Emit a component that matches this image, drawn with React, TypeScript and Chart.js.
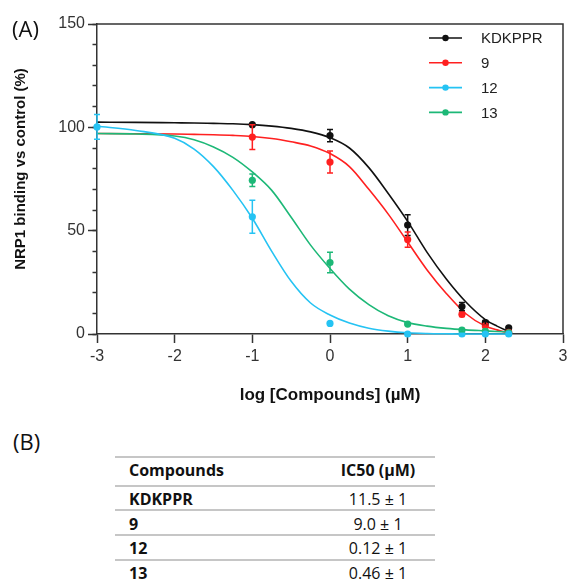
import React, { useEffect, useRef } from "react";
import { Chart, registerables } from "chart.js";

Chart.register(...registerables);

// ---------- data ----------
const SERIES_LABELS = ["KDKPPR", "9", "12", "13"];
const SERIES_COLORS = ["#111111", "#ff2020", "#25c3f3", "#1db877"];

// measured points (log concentration, % binding, error)
const POINT_X = [-1, 0, 1, 1.699, 2, 2.301];
const POINT_X_12 = [-3, -1, 0, 1, 1.699, 2, 2.301];
const POINTS_KDKPPR = [101.3, 96, 52.7, 13.3, 5.5, 3];
const ERRORS_KDKPPR = [0, 3, 5, 2, 1, 0];
const POINTS_9 = [95.3, 83.2, 45.7, 9.5, 3.9, 0.8];
const ERRORS_9 = [6, 5.3, 3.7, 1, 0.5, 0];
const POINTS_12 = [100.2, 56.7, 5.1, 0, 0, 0, 0];
const ERRORS_12 = [6, 8, 0, 0, 0, 0, 0];
const POINTS_13 = [74.4, 34.6, 4.8, 1.9, 1.4, 0.6];
const ERRORS_13 = [3, 5, 0.5, 0.8, 0, 0];

// fitted curves
const CURVE_X = [-3, -2.5, -2, -1.75, -1.5, -1.25, -1, -0.75, -0.5, -0.25, 0, 0.25, 0.5, 0.75, 1, 1.25, 1.5, 1.75, 2, 2.15, 2.3];
const CURVE_KDKPPR = [102.5, 102.4, 102.2, 102.1, 101.9, 101.7, 101.3, 100.6, 99.5, 97.8, 95, 90, 80.5, 68, 54.5, 39.5, 26.5, 15.5, 7, 3.8, 1.2];
const CURVE_9 = [97, 96.9, 96.8, 96.6, 96.4, 96.1, 95.6, 94.6, 93, 91, 87.3, 81, 70, 58, 44.5, 31, 19.5, 9.8, 3.8, 2, 0.5];
const CURVE_12 = [100.5, 98.5, 94.7, 89.5, 81, 69.5, 56, 40, 25.5, 15, 9.2, 5.3, 2.8, 1.4, 0.6, 0.25, 0.1, 0, 0, 0, 0];
const CURVE_13 = [97, 96.8, 95.8, 94, 90.5, 85.5, 78.4, 69.5, 56.5, 43, 31.7, 21.7, 14.2, 8.8, 5.5, 3.8, 2.7, 2, 1.5, 1.2, 1];

const X_MIN = -3;
const X_MAX = 3;
const Y_MIN = 0;
const Y_MAX = 150;
const Y_MAJOR_STEP = 50;
const Y_MINOR_STEP = 10;

const X_TITLE = "log [Compounds] (µM)";
const Y_TITLE = "NRP1 binding vs control (%)";

const TABLE_HEADER = ["Compounds", "IC50 (µM)"];
const TABLE_COMPOUNDS = ["KDKPPR", "9", "12", "13"];
const TABLE_IC50 = ["11.5 ± 1", "9.0 ± 1", "0.12 ± 1", "0.46 ± 1"];

// ---------- helpers ----------
const FONT = "'Liberation Sans', Arial, sans-serif";
const AXIS_COLOR = "#333333";

const pointSets = [
  { xs: POINT_X, ys: POINTS_KDKPPR, errs: ERRORS_KDKPPR },
  { xs: POINT_X, ys: POINTS_9, errs: ERRORS_9 },
  { xs: POINT_X_12, ys: POINTS_12, errs: ERRORS_12 },
  { xs: POINT_X, ys: POINTS_13, errs: ERRORS_13 },
];
const curveSets = [CURVE_KDKPPR, CURVE_9, CURVE_12, CURVE_13];
const pointOrder = [3, 2, 0, 1];
const curveOrder = [13, 12, 10, 11];

const errorBarPlugin = {
  id: "errorBars",
  afterDatasetsDraw(chart: any) {
    const { ctx } = chart;
    const xs = chart.scales.x;
    const ys = chart.scales.y;
    chart.data.datasets.forEach((ds: any) => {
      if (!ds.errors) return;
      ctx.save();
      ctx.strokeStyle = ds.borderColor;
      ctx.lineWidth = 1.5;
      ds.data.forEach((pt: any, j: number) => {
        const e = ds.errors[j];
        if (!e) return;
        const px = xs.getPixelForValue(pt.x);
        const yTop = ys.getPixelForValue(pt.y + e);
        const yBot = ys.getPixelForValue(pt.y - e);
        ctx.beginPath();
        ctx.moveTo(px, yTop);
        ctx.lineTo(px, yBot);
        ctx.moveTo(px - 3, yTop);
        ctx.lineTo(px + 3, yTop);
        ctx.moveTo(px - 3, yBot);
        ctx.lineTo(px + 3, yBot);
        ctx.stroke();
      });
      ctx.restore();
    });
  },
};

const framePlugin = {
  id: "frame",
  afterDraw(chart: any) {
    const { ctx, chartArea } = chart;
    ctx.save();
    ctx.strokeStyle = AXIS_COLOR;
    ctx.lineWidth = 1.5;
    ctx.beginPath();
    ctx.moveTo(chartArea.left, chartArea.top);
    ctx.lineTo(chartArea.right, chartArea.top);
    ctx.lineTo(chartArea.right, chartArea.bottom);
    ctx.stroke();
    // y axis title
    ctx.translate(21, 169);
    ctx.rotate(-Math.PI / 2);
    ctx.fillStyle = "#111";
    ctx.font = `bold 15px ${FONT}`;
    ctx.textAlign = "center";
    ctx.textBaseline = "middle";
    ctx.fillText(Y_TITLE, 0, 0);
    ctx.restore();
  },
};

const legendPlugin = {
  id: "customLegend",
  afterDraw(chart: any) {
    const { ctx, chartArea } = chart;
    ctx.save();
    SERIES_LABELS.forEach((label, i) => {
      const y = chartArea.top + 14 + i * 24.8;
      const x0 = chartArea.right - 134;
      const x1 = chartArea.right - 101;
      ctx.strokeStyle = SERIES_COLORS[i];
      ctx.fillStyle = SERIES_COLORS[i];
      ctx.lineWidth = 1.6;
      ctx.beginPath();
      ctx.moveTo(x0, y);
      ctx.lineTo(x1, y);
      ctx.stroke();
      ctx.beginPath();
      ctx.arc((x0 + x1) / 2, y, 3.2, 0, Math.PI * 2);
      ctx.fill();
      ctx.fillStyle = "#222";
      ctx.font = `15px ${FONT}`;
      ctx.textAlign = "left";
      ctx.textBaseline = "middle";
      ctx.fillText(label, chartArea.right - 82, y + 1);
    });
    ctx.restore();
  },
};

function ChartPanel() {
  const ref = useRef<HTMLCanvasElement | null>(null);
  useEffect(() => {
    if (!ref.current) return;
    const datasets: any[] = [];
    SERIES_LABELS.forEach((label, i) => {
      const p = pointSets[i];
      datasets.push({
        label,
        data: p.xs.map((x, j) => ({ x, y: p.ys[j] })),
        errors: p.errs,
        showLine: false,
        borderColor: SERIES_COLORS[i],
        backgroundColor: SERIES_COLORS[i],
        pointRadius: 3.6,
        pointHoverRadius: 3.6,
        pointBorderWidth: 0,
        order: pointOrder[i],
        clip: false,
      });
    });
    SERIES_LABELS.forEach((label, i) => {
      datasets.push({
        label: label + " fit",
        data: CURVE_X.map((x, j) => ({ x, y: curveSets[i][j] })),
        borderColor: SERIES_COLORS[i],
        backgroundColor: SERIES_COLORS[i],
        borderWidth: 1.6,
        pointRadius: 0,
        fill: false,
        cubicInterpolationMode: "monotone",
        order: curveOrder[i],
        clip: false,
      });
    });

    const chart = new Chart(ref.current, {
      type: "line",
      data: { datasets },
      options: {
        animation: false,
        responsive: false,
        events: [],
        layout: { padding: { left: 0, top: 24, right: 0, bottom: 0 } },
        plugins: {
          legend: { display: false },
          tooltip: { enabled: false },
        },
        scales: {
          x: {
            type: "linear",
            min: X_MIN,
            max: X_MAX,
            afterFit: (s: any) => {
              s.height = 86;
              s.paddingLeft = 0;
              s.paddingRight = 4;
            },
            grid: { drawOnChartArea: false, tickLength: 9, tickWidth: 1.5, tickColor: AXIS_COLOR },
            border: { color: AXIS_COLOR, width: 1.5 },
            ticks: { stepSize: 1, padding: 4, color: AXIS_COLOR, font: { size: 16, family: FONT } },
            title: {
              display: true,
              text: X_TITLE,
              color: "#111",
              font: { size: 17, weight: "bold", family: FONT },
              padding: { top: 0, bottom: 14.8 },
            },
          },
          y: {
            type: "linear",
            position: "left",
            min: Y_MIN,
            max: Y_MAX,
            weight: 1,
            afterFit: (s: any) => {
              s.width = 97;
            },
            grid: { drawOnChartArea: false, tickLength: 9, tickWidth: 1.5, tickColor: AXIS_COLOR },
            border: { color: AXIS_COLOR, width: 1.5 },
            ticks: { stepSize: Y_MAJOR_STEP, padding: 3, color: AXIS_COLOR, font: { size: 16, family: FONT } },
          },
          yMinor: {
            type: "linear",
            position: "left",
            min: Y_MIN,
            max: Y_MAX,
            weight: 0,
            afterFit: (s: any) => {
              s.width = 0;
            },
            grid: { drawOnChartArea: false, tickLength: 4.5, tickWidth: 1.5, tickColor: AXIS_COLOR },
            border: { display: false },
            ticks: { stepSize: Y_MINOR_STEP, display: false },
          },
        },
      } as any,
      plugins: [errorBarPlugin, framePlugin, legendPlugin],
    });
    return () => chart.destroy();
  }, []);
  return (
    <canvas
      ref={ref}
      width={567}
      height={420}
      style={{ position: "absolute", left: 0, top: 0, width: 567, height: 420 }}
    />
  );
}

const TABLE_FONT = "'Open Sans', 'Noto Sans', sans-serif";
const LINE_YS = [457, 486, 510, 535, 560];
const ROW_CENTERS = [499.5, 524, 548.5, 573];

export default function App() {
  const lineStyle = (top: number): React.CSSProperties => ({
    position: "absolute",
    left: 115,
    width: 320,
    top: top - 1,
    height: 2,
    background: "#c6c6c6",
  });
  const cell = (center: number, left: number, width: number, align: "left" | "center", bold: boolean): React.CSSProperties => ({
    position: "absolute",
    top: center - 12.5,
    left,
    width,
    height: 24,
    lineHeight: "24px",
    fontSize: 16,
    fontFamily: TABLE_FONT,
    fontWeight: bold ? 700 : 400,
    textAlign: align,
    color: "#111",
    whiteSpace: "nowrap",
  });
  return (
    <div
      style={{
        position: "absolute",
        left: 0,
        top: 0,
        width: 567,
        height: 580,
        overflow: "hidden",
        background: "#fff",
      }}
    >
      <ChartPanel />
      <div style={{ position: "absolute", left: 12, top: 13, fontSize: 22, lineHeight: "30px", fontFamily: TABLE_FONT, color: "#111" }}>
        (A)
      </div>
      <div style={{ position: "absolute", left: 13, top: 426, fontSize: 22, lineHeight: "30px", fontFamily: TABLE_FONT, color: "#111" }}>
        (B)
      </div>
      {LINE_YS.map((y, i) => (
        <div key={"l" + i} style={lineStyle(y)} />
      ))}
      <div style={cell(470.5, 129, 180, "left", true)}>{TABLE_HEADER[0]}</div>
      <div style={cell(470.5, 318, 120, "center", true)}>{TABLE_HEADER[1]}</div>
      {TABLE_COMPOUNDS.map((c, i) => (
        <React.Fragment key={c}>
          <div style={cell(ROW_CENTERS[i], 129, 180, "left", true)}>{c}</div>
          <div style={cell(ROW_CENTERS[i], 318, 120, "center", false)}>{TABLE_IC50[i]}</div>
        </React.Fragment>
      ))}
    </div>
  );
}
